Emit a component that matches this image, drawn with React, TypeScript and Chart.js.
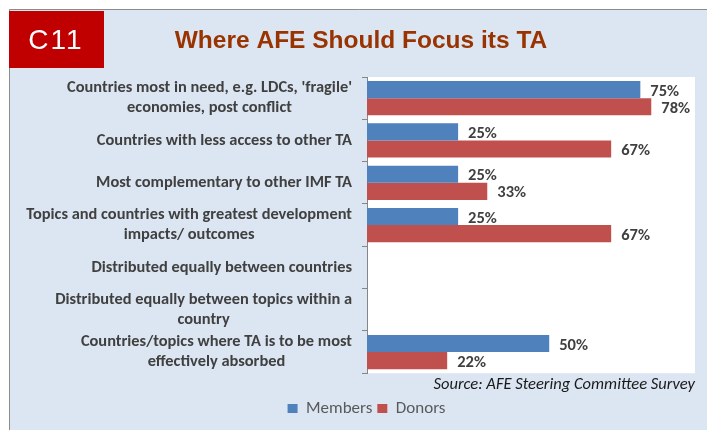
import React, { useEffect, useRef } from "react";
import { Chart, registerables } from "chart.js";

Chart.register(...registerables);

const categories: string[][] = [
  ["Countries most in need, e.g. LDCs, 'fragile'", "economies, post conflict"],
  ["Countries with less access to other TA"],
  ["Most complementary to other IMF TA"],
  ["Topics and countries with greatest development", "impacts/ outcomes"],
  ["Distributed equally between countries"],
  ["Distributed equally between topics within a", "country"],
  ["Countries/topics where TA is to be most", "effectively absorbed"],
];
const members: (number | null)[] = [75, 25, 25, 25, null, null, 50];
const donors: (number | null)[] = [78, 67, 33, 67, null, null, 22];
const seriesNames = ["Members", "Donors"];
const badge = "C11";
const titleText = "Where AFE Should Focus its TA";
const sourceText = "Source: AFE Steering Committee Survey";
const valueMax = 90;

const BODY_FONT = "Carlito, Lato, 'Noto Sans', sans-serif";
const PAD_L = 38;
const PAD_R = 12;
const AXIS_X = 367;
const LABEL_FONT = 16.4;
const LABEL_LINE = 20;

const framePlugin = {
  id: "frame",
  beforeDraw(chart: any) {
    const { ctx, width, height, chartArea } = chart;
    ctx.save();
    ctx.fillStyle = "#ffffff";
    ctx.fillRect(0, 0, width, height);
    ctx.fillStyle = "#dce6f2";
    ctx.fillRect(9, 9, width - 9, height - 9);
    ctx.strokeStyle = "#8c8c8c";
    ctx.lineWidth = 1;
    ctx.beginPath();
    ctx.moveTo(9.5, height);
    ctx.lineTo(9.5, 9.5);
    ctx.lineTo(width, 9.5);
    ctx.stroke();
    // badge
    ctx.fillStyle = "#c00000";
    ctx.fillRect(9, 11, 95, 57);
    ctx.fillStyle = "#ffffff";
    ctx.font = "28px 'Liberation Sans', Arial, sans-serif";
    (ctx as any).letterSpacing = "2px";
    ctx.textAlign = "center";
    ctx.textBaseline = "middle";
    ctx.fillText(badge, 56, 41);
    (ctx as any).letterSpacing = "0px";
    // title
    ctx.fillStyle = "#993300";
    ctx.font = "bold 24.5px 'Liberation Sans', Arial, sans-serif";
    ctx.fillText(titleText, 361, 41);
    // plot area
    ctx.fillStyle = "#ffffff";
    ctx.fillRect(chartArea.left, chartArea.top, chartArea.right - chartArea.left, chartArea.bottom - chartArea.top);
    ctx.restore();
  },
};

const categoryLabelPlugin = {
  id: "categoryLabels",
  afterDraw(chart: any) {
    const { ctx } = chart;
    const scale = chart.scales.y;
    const right = scale.right - 5 - 10;
    ctx.save();
    ctx.font = `bold ${LABEL_FONT}px ${BODY_FONT}`;
    ctx.fillStyle = "#404040";
    ctx.textAlign = "center";
    ctx.textBaseline = "middle";
    (chart.data.labels as string[][]).forEach((lines, i) => {
      const y = scale.getPixelForTick(i);
      const w = Math.max(...lines.map((l) => ctx.measureText(l).width));
      const cx = right - w / 2;
      const y0 = y - ((lines.length - 1) * LABEL_LINE) / 2;
      lines.forEach((l, k) => ctx.fillText(l, cx, y0 + k * LABEL_LINE));
    });
    ctx.restore();
  },
};

const valueLabelPlugin = {
  id: "valueLabels",
  afterDatasetsDraw(chart: any) {
    const { ctx } = chart;
    ctx.save();
    ctx.font = `bold 16.5px ${BODY_FONT}`;
    ctx.fillStyle = "#404040";
    ctx.textAlign = "left";
    ctx.textBaseline = "middle";
    chart.data.datasets.forEach((ds: any, di: number) => {
      const meta = chart.getDatasetMeta(di);
      meta.data.forEach((el: any, i: number) => {
        const v = ds.data[i];
        if (v === null || v === undefined) return;
        ctx.fillText(`${v}%`, el.x + 10, el.y + 2);
      });
    });
    ctx.restore();
  },
};

export default function App() {
  const ref = useRef<HTMLCanvasElement | null>(null);
  useEffect(() => {
    if (!ref.current) return;
    const chart = new Chart(ref.current, {
      type: "bar",
      data: {
        labels: categories,
        datasets: [
          { label: seriesNames[0], data: members, backgroundColor: "#4f81bd", borderWidth: 0 },
          { label: seriesNames[1], data: donors, backgroundColor: "#c0504d", borderWidth: 0 },
        ],
      },
      options: {
        indexAxis: "y",
        responsive: false,
        animation: false,
        maintainAspectRatio: false,
        datasets: { bar: { categoryPercentage: 0.81, barPercentage: 1 } },
        layout: { padding: { left: PAD_L, right: PAD_R, top: 77, bottom: 3 } },
        scales: {
          x: { display: false, min: 0, max: valueMax },
          y: {
            position: "left",
            grid: {
              offset: true,
              drawOnChartArea: false,
              drawTicks: true,
              tickLength: 5,
              color: "#868686",
            },
            border: { display: true, color: "#868686" },
            ticks: { display: false, autoSkip: false },
            afterFit: (scale: any) => {
              scale.width = AXIS_X - PAD_L;
            },
          },
        },
        plugins: {
          tooltip: { enabled: false },
          title: { display: false },
          subtitle: {
            display: true,
            text: sourceText,
            position: "bottom",
            align: "end",
            weight: 500,
            color: "#1a1a1a",
            font: { family: BODY_FONT, size: 16.5, style: "italic", weight: "normal" },
            padding: { top: 2, bottom: 0 },
          },
          legend: {
            display: true,
            position: "bottom",
            labels: {
              boxWidth: 10,
              boxHeight: 9,
              padding: 5,
              color: "#595959",
              font: { family: BODY_FONT, size: 17 },
            },
          },
        },
      },
      plugins: [framePlugin, valueLabelPlugin, categoryLabelPlugin],
    });
    return () => chart.destroy();
  }, []);
  return (
    <div style={{ position: "fixed", left: 0, top: 0, width: 707, height: 430 }}>
      <canvas ref={ref} width={707} height={430} style={{ width: 707, height: 430, display: "block" }} />
    </div>
  );
}
